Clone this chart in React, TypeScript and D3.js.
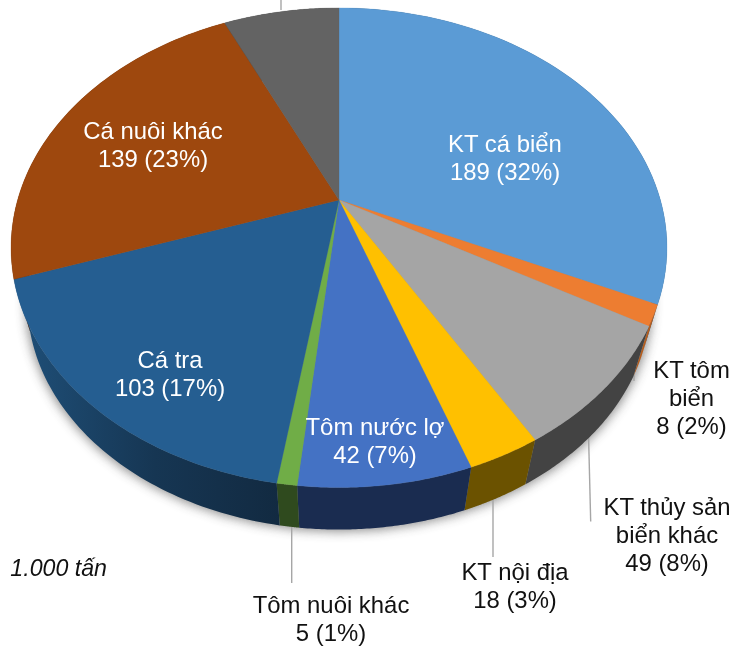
import React from "react";
import * as d3 from "d3";

const categories = ["KT cá biển", "KT tôm biển", "KT thủy sản biển khác", "KT nội địa", "Tôm nước lợ", "Tôm nuôi khác", "Cá tra", "Cá nuôi khác", "Khác"];
const values = [189.2, 8.2, 49.5, 17.9, 42.1, 4.9, 102.7, 138.5, 41];
const topColors = ["#5b9bd5", "#ed7d31", "#a5a5a5", "#ffc000", "#4472c4", "#70ad47", "#255e91", "#9e480e", "#636363"];
const wallColors = ["#2c5475", "#b35c1e", "#434343", "#6b5200", "#1a2c50", "#2f4a1e", "#15334f", "#5e2a08", "#3a3a3a"];

const labelLines = [
  { lines: ["KT cá biển", "189 (32%)"], x: 505, y: 143.5, fill: "#fff" },
  { lines: ["KT tôm", "biển", "8 (2%)"], x: 691.5, y: 369.5, fill: "#111" },
  { lines: ["KT thủy sản", "biển khác", "49 (8%)"], x: 667, y: 506.5, fill: "#111" },
  { lines: ["KT nội địa", "18 (3%)"], x: 515, y: 571.5, fill: "#111" },
  { lines: ["Tôm nước lợ", "42 (7%)"], x: 375, y: 426.5, fill: "#fff" },
  { lines: ["Tôm nuôi khác", "5 (1%)"], x: 331, y: 604.5, fill: "#111" },
  { lines: ["Cá tra", "103 (17%)"], x: 170, y: 359.5, fill: "#fff" },
  { lines: ["Cá nuôi khác", "139 (23%)"], x: 153, y: 130.5, fill: "#fff" },
];
const leaders = [
  [[281, -2], [281, 10]],
  [[634, 362], [634, 381]],
  [[588.5, 434], [590.7, 521.5]],
  [[493, 498], [493, 557]],
  [[291.7, 525], [291.7, 583]],
];
const unitNote = "1.000 tấn";

const cx = 339, apexY = 200;
const B = 321.4, A = 230.3, k = -0.199;
const bottomScale = 0.95, bottomApexY = 256.4;

function project(a: number): [number, number] {
  const u = Math.sin(a), v = -Math.cos(a);
  const d = 1 + k * v;
  return [cx + (B * u) / d, apexY + (A * v) / d];
}
function projectBottom(a: number): [number, number] {
  const [x, y] = project(a);
  return [cx + bottomScale * (x - cx), bottomApexY + bottomScale * (y - apexY)];
}
const line = d3.line<[number, number]>();

export default function App() {
  const arcs = d3.pie<number>().sort(null).value((d) => d)(values);
  const samples = (s: number, e: number) => d3.range(0, 61).map((i) => s + ((e - s) * i) / 60);
  const full = samples(0, Math.PI * 2);
  const outerBottom = line(full.map(projectBottom)) + "Z";
  return (
    <svg width={730} height={649} style={{ position: "fixed", left: 0, top: 0 }} fontFamily="'Liberation Sans', Arial, sans-serif">
      <defs>
        <filter id="soft" x="-10%" y="-10%" width="120%" height="120%">
          <feGaussianBlur stdDeviation="5.5" />
        </filter>
        <linearGradient id="wallTeal" gradientUnits="userSpaceOnUse" x1="30" x2="280" y1="0" y2="0">
          <stop offset="0" stopColor="#1e4d75" />
          <stop offset="0.5" stopColor="#163653" />
          <stop offset="1" stopColor="#122a41" />
        </linearGradient>
      </defs>
      <g filter="url(#soft)" opacity={0.62}>
        <path d={outerBottom} fill="#444" stroke="#444" strokeWidth={4} />
      </g>
      {leaders.map((l, i) => (
        <path key={i} d={line(l as [number, number][])!} stroke="#a6a6a6" strokeWidth={1.4} fill="none" />
      ))}
      {arcs.map((a, i) => {
        const t = samples(a.startAngle, a.endAngle);
        const pts = [...t.map(project), ...t.slice().reverse().map(projectBottom)];
        return <path key={i} d={line(pts) + "Z"} fill={i === 6 ? "url(#wallTeal)" : wallColors[i]} />;
      })}
      {arcs.map((a, i) => {
        const t = samples(a.startAngle, a.endAngle);
        const pts: [number, number][] = [[cx, apexY], ...t.map(project)];
        return <path key={i} d={line(pts) + "Z"} fill={topColors[i]} stroke={topColors[i]} strokeWidth={0.3} />;
      })}
      <g fontSize={23.9} textAnchor="middle" dominantBaseline="central">
        {labelLines.map((l, i) =>
          l.lines.map((s, j) => (
            <text key={s} x={l.x} y={l.y + j * 28} fill={l.fill}>{s}</text>
          ))
        )}
      </g>
      <text x={107} y={576} textAnchor="end" fontSize={23.2} fontStyle="italic" fill="#111">{unitNote}</text>
    </svg>
  );
}
